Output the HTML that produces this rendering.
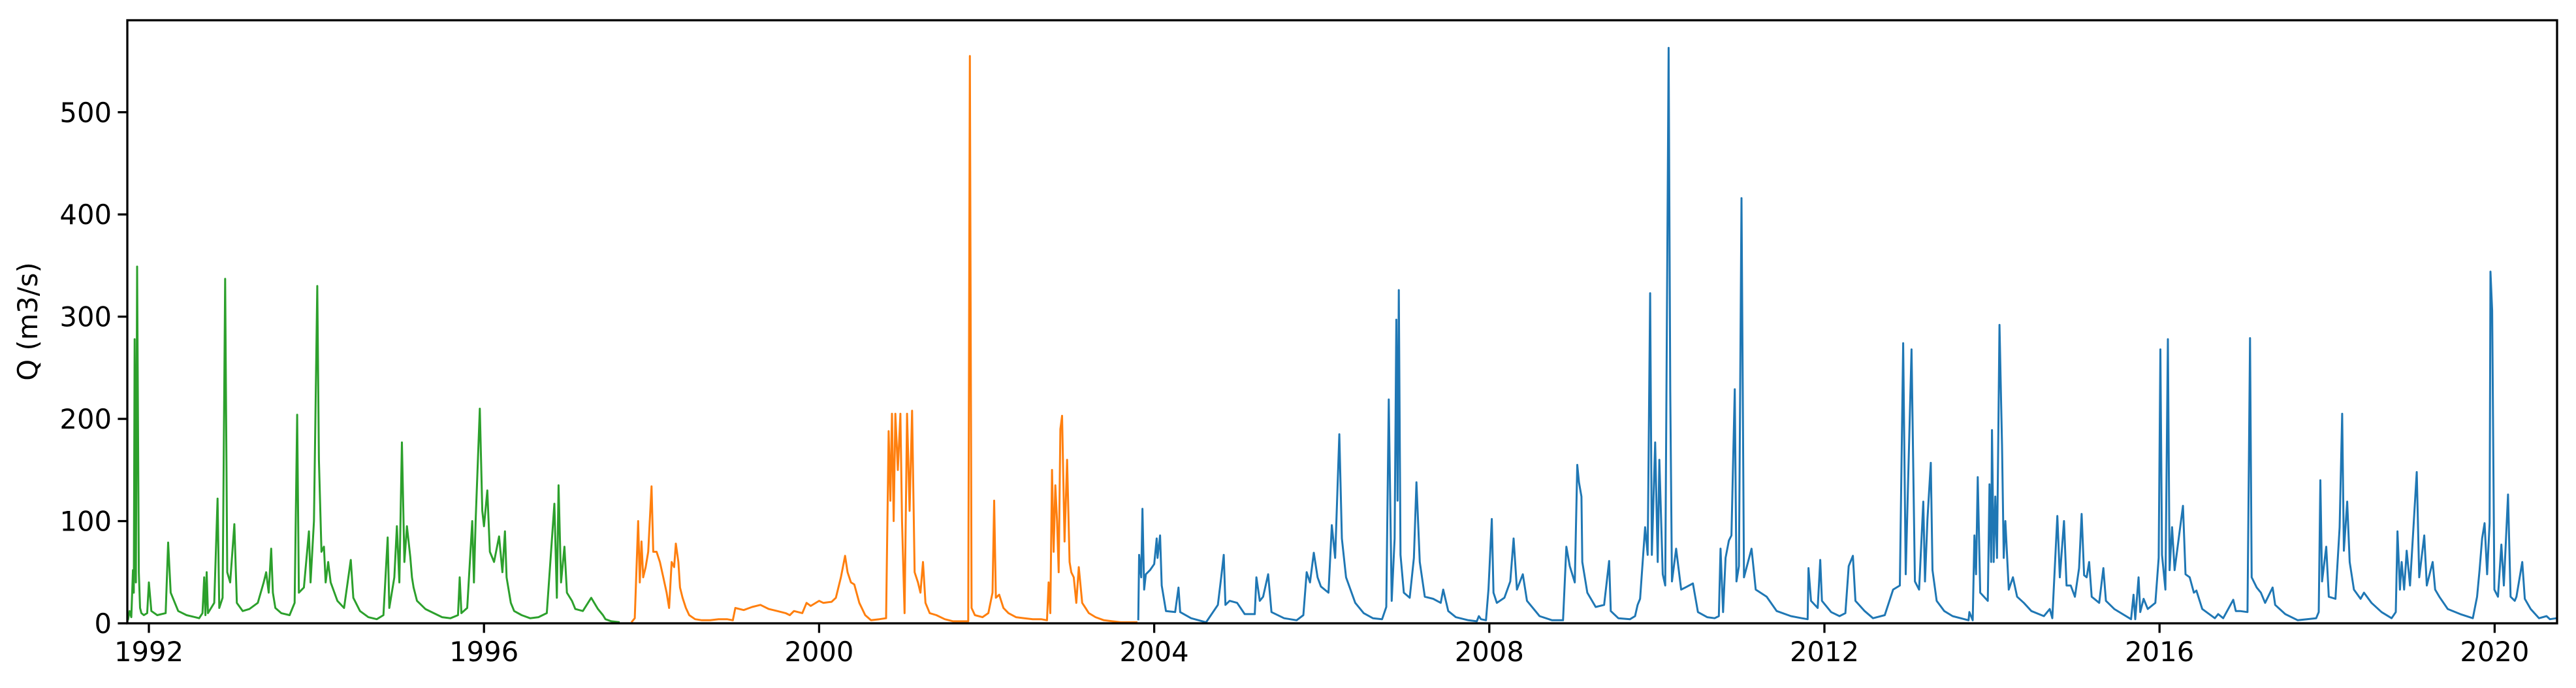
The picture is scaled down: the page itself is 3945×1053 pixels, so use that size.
<!DOCTYPE html>
<html><head><meta charset="utf-8">
<style>
html,body{margin:0;padding:0;background:#fff;}
svg{display:block;}
text{font-family:"DejaVu Sans","Liberation Sans",sans-serif;fill:#000;}
</style></head>
<body>
<svg id="chart" width="3945" height="1053" viewBox="0 0 3945 1053" xmlns="http://www.w3.org/2000/svg">
<rect x="0" y="0" width="3945" height="1053" fill="#fff"/>
<g id="series"></g>
<g id="axes"></g>
</svg>
<script>
const xTickLabels = ["1992","1996","2000","2004","2008","2012","2016","2020"];
const xTickYears = [1992,1996,2000,2004,2008,2012,2016,2020];
const yTickValues = [0,100,200,300,400,500];

const greenDates = [1991.75,1991.77,1991.79,1991.81,1991.82,1991.83,1991.845,1991.86,1991.88,1991.895,1991.91,1991.94,1991.98,2.0+1990,1992.03,1992.1,1992.2,1992.23,1992.26,1992.35,1992.45,1992.55,1992.6,1992.64,1992.66,1992.675,1992.69,1992.705,1992.78,1992.82,1992.84,1992.88,1992.91,1992.935,1992.97,1993.02,1993.05,1993.12,1993.2,1993.3,1993.37,1993.40,1993.43,1993.46,1993.48,1993.51,1993.58,1993.68,1993.74,1993.77,1993.79,1993.85,1993.91,1993.93,1993.97,1994.01,1994.03,1994.06,1994.09,1994.11,1994.14,1994.17,1994.25,1994.33,1994.41,1994.44,1994.52,1994.62,1994.72,1994.8,1994.85,1994.87,1994.93,1994.96,1994.99,1995.02,1995.05,1995.08,1995.12,1995.14,1995.16,1995.2,1995.3,1995.4,1995.5,1995.6,1995.69,1995.71,1995.73,1995.8,1995.86,1995.88,1995.9,1995.95,1995.98,1996.0,1996.04,1996.07,1996.12,1996.18,1996.22,1996.25,1996.27,1996.3,1996.32,1996.36,1996.45,1996.55,1996.65,1996.75,1996.84,1996.87,1996.89,1996.92,1996.96,1996.99,1997.05,1997.09,1997.18,1997.28,1997.36,1997.42,1997.45,1997.52,1997.62,1997.7,1997.76];
const greenValues = [3,12,6,52,30,278,40,349,50,15,10,8,10,40,12,8,10,79,30,12,8,6,5,10,45,8,50,10,20,122,15,25,337,50,40,97,20,12,14,20,40,50,30,73,30,15,10,8,20,204,30,35,90,40,100,330,160,70,75,40,60,40,22,15,62,25,12,6,4,8,84,15,45,95,40,177,60,95,65,45,35,22,14,10,6,5,8,45,10,15,100,40,100,210,110,95,130,70,60,85,50,90,45,30,20,12,8,5,6,10,117,25,135,40,75,30,22,14,12,25,14,8,4,2,1];

const orangeDates = [1997.76,1997.8,1997.84,1997.86,1997.88,1997.9,1997.93,1997.96,1998.0,1998.02,1998.06,1998.1,1998.14,1998.18,1998.21,1998.24,1998.27,1998.29,1998.32,1998.34,1998.37,1998.41,1998.45,1998.52,1998.6,1998.7,1998.8,1998.9,1998.97,1999.0,1999.1,1999.2,1999.3,1999.4,1999.5,1999.6,1999.65,1999.7,1999.8,1999.85,1999.9,2000.0,2000.05,2000.15,2000.2,2000.26,2000.31,2000.34,2000.38,2000.42,2000.48,2000.55,2000.62,2000.72,2000.8,2000.83,2000.85,2000.87,2000.89,2000.91,2000.94,2000.97,2000.99,2001.02,2001.05,2001.08,2001.11,2001.14,2001.18,2001.21,2001.24,2001.27,2001.32,2001.4,2001.5,2001.6,2001.7,2001.78,2001.80,2001.82,2001.86,2001.95,2002.02,2002.07,2002.09,2002.11,2002.15,2002.2,2002.26,2002.35,2002.45,2002.55,2002.65,2002.72,2002.74,2002.76,2002.78,2002.8,2002.82,2002.84,2002.86,2002.88,2002.9,2002.93,2002.96,2002.99,2003.01,2003.04,2003.07,2003.1,2003.14,2003.18,2003.22,2003.3,2003.4,2003.5,2003.6,2003.7,2003.8];
const orangeValues = [1,5,100,40,80,45,55,70,134,70,70,60,45,30,15,60,55,78,60,35,25,15,8,4,3,3,4,4,3,15,13,16,18,14,12,10,8,12,10,20,17,22,20,21,25,45,66,50,40,38,20,8,3,4,5,188,120,205,100,205,150,205,100,10,205,110,208,50,40,30,60,20,10,8,4,2,2,2,555,15,8,6,10,30,120,25,28,15,10,6,5,4,4,3,40,10,150,70,135,100,50,190,203,80,160,60,50,45,20,55,20,15,10,6,3,2,1,1,1];

const blueDates = [2003.81,2003.82,2003.845,2003.86,2003.88,2003.90,2003.95,2004.0,2004.03,2004.04,2004.07,2004.09,2004.14,2004.25,2004.29,2004.31,2004.44,2004.62,2004.76,2004.80,2004.83,2004.85,2004.90,2004.99,2005.08,2005.20,2005.22,2005.26,2005.30,2005.36,2005.40,2005.55,2005.7,2005.78,2005.82,2005.86,2005.905,2005.95,2005.99,2006.08,2006.12,2006.16,2006.21,2006.24,2006.29,2006.4,2006.5,2006.61,2006.72,2006.77,2006.80,2006.835,2006.87,2006.89,2006.905,2006.92,2006.94,2006.98,2007.05,2007.10,2007.13,2007.17,2007.23,2007.33,2007.42,2007.45,2007.51,2007.6,2007.75,2007.85,2007.875,2007.9,2007.96,2007.99,2008.03,2008.05,2008.09,2008.18,2008.25,2008.29,2008.33,2008.40,2008.45,2008.6,2008.75,2008.88,2008.92,2008.96,2009.02,2009.05,2009.07,2009.10,2009.11,2009.17,2009.27,2009.37,2009.43,2009.45,2009.54,2009.68,2009.74,2009.77,2009.80,2009.86,2009.89,2009.92,2009.94,2009.98,2010.01,2010.03,2010.07,2010.10,2010.14,2010.16,2010.18,2010.23,2010.29,2010.34,2010.43,2010.49,2010.6,2010.69,2010.74,2010.76,2010.79,2010.82,2010.86,2010.89,2010.93,2010.95,2010.98,2011.01,2011.04,2011.13,2011.18,2011.31,2011.43,2011.6,2011.73,2011.80,2011.81,2011.84,2011.92,2011.95,2011.97,2012.08,2012.18,2012.25,2012.29,2012.34,2012.37,2012.48,2012.58,2012.72,2012.82,2012.90,2012.94,2012.97,2013.04,2013.08,2013.13,2013.18,2013.20,2013.23,2013.27,2013.29,2013.34,2013.43,2013.53,2013.72,2013.73,2013.77,2013.79,2013.81,2013.83,2013.86,2013.95,2013.97,2013.99,2014.00,2014.02,2014.04,2014.06,2014.09,2014.11,2014.12,2014.14,2014.16,2014.20,2014.25,2014.30,2014.38,2014.47,2014.62,2014.69,2014.72,2014.78,2014.81,2014.86,2014.89,2014.94,2014.99,2015.04,2015.07,2015.10,2015.13,2015.16,2015.19,2015.28,2015.33,2015.36,2015.46,2015.66,2015.69,2015.71,2015.75,2015.77,2015.81,2015.86,2015.95,2015.99,2016.01,2016.03,2016.07,2016.10,2016.12,2016.15,2016.18,2016.24,2016.28,2016.31,2016.36,2016.41,2016.44,2016.51,2016.66,2016.70,2016.76,2016.88,2016.91,2016.96,2017.05,2017.08,2017.10,2017.16,2017.21,2017.26,2017.35,2017.38,2017.50,2017.65,2017.87,2017.90,2017.92,2017.94,2017.99,2018.02,2018.10,2018.15,2018.18,2018.20,2018.24,2018.27,2018.32,2018.40,2018.44,2018.53,2018.65,2018.77,2018.82,2018.84,2018.87,2018.89,2018.92,2018.95,2018.99,2019.07,2019.10,2019.16,2019.19,2019.26,2019.29,2019.34,2019.44,2019.59,2019.74,2019.79,2019.82,2019.85,2019.88,2019.91,2019.94,2019.95,2019.97,2019.997,2020.04,2020.08,2020.11,2020.16,2020.19,2020.24,2020.26,2020.33,2020.36,2020.43,2020.53,2020.62,2020.66,2020.74];
const blueValues = [3,67,45,112,33,48,52,58,83,64,86,37,12,11,35,11,5,1,18,45,67,18,22,20,9,9,45,22,26,48,11,5,3,8,50,40,69,45,36,30,96,64,185,83,45,20,10,5,4,16,219,22,83,297,120,326,67,30,25,64,138,60,26,24,20,33,12,6,3,2,7,4,3,33,102,30,20,25,41,83,33,48,22,7,3,3,75,56,40,155,138,124,60,30,16,18,61,12,5,4,7,18,24,94,67,323,67,177,60,160,48,37,563,227,41,73,33,35,39,11,6,5,7,73,11,64,81,86,229,41,56,416,45,73,33,26,12,7,5,4,54,22,15,62,22,11,7,10,56,66,22,12,5,8,33,37,274,48,268,41,33,119,41,102,157,52,22,12,7,3,11,3,86,48,143,30,22,136,60,189,60,124,64,292,213,174,64,100,33,45,26,20,12,7,14,5,105,45,100,37,37,26,54,107,47,45,60,26,20,54,22,14,4,28,4,45,11,24,14,20,64,268,67,33,278,52,94,52,90,115,48,45,30,32,14,5,9,5,23,12,12,11,279,45,35,30,20,35,18,9,3,5,11,140,41,75,26,24,94,205,71,119,60,33,24,30,20,11,5,11,90,33,60,33,71,37,148,45,86,37,60,33,26,14,9,5,26,52,83,98,48,98,344,306,33,26,77,37,126,26,22,26,60,24,14,5,7,4,5];

// axis functions
const X0 = 228, PX_PER_YEAR = 128.3;   // 1992 tick at x=228
const Y0 = 954, PX_PER_UNIT = 1.5645;  // value 0 at y=954
const PLOT = {left:195, right:3916, top:31, bottom:954};
function xScale(year){ return X0 + (year - 1992) * PX_PER_YEAR; }
function yScale(v){ return Y0 - v * PX_PER_UNIT; }

const NS = "http://www.w3.org/2000/svg";
const svg = document.getElementById('chart');
const seriesG = document.getElementById('series');
const axesG = document.getElementById('axes');

// clip
const defs = document.createElementNS(NS,'defs');
const cp = document.createElementNS(NS,'clipPath');
cp.setAttribute('id','plotclip');
const cr = document.createElementNS(NS,'rect');
cr.setAttribute('x',PLOT.left); cr.setAttribute('y',PLOT.top);
cr.setAttribute('width',PLOT.right-PLOT.left); cr.setAttribute('height',PLOT.bottom-PLOT.top);
cp.appendChild(cr); defs.appendChild(cp); svg.insertBefore(defs, svg.firstChild);
seriesG.setAttribute('clip-path','url(#plotclip)');

function drawSeries(dates, values, color, name){
  let d = '';
  for(let i=0;i<dates.length;i++){
    d += (i?'L':'M') + xScale(dates[i]).toFixed(1) + ' ' + yScale(values[i]).toFixed(1);
  }
  const p = document.createElementNS(NS,'path');
  p.setAttribute('d', d);
  p.setAttribute('fill','none');
  p.setAttribute('stroke', color);
  p.setAttribute('stroke-width','3');
  p.setAttribute('stroke-linejoin','round');
  
  
  seriesG.appendChild(p);
}
drawSeries(greenDates, greenValues, '#2ca02c', 'series-1991-1997-line');
drawSeries(orangeDates, orangeValues, '#ff7f0e', 'series-1997-2003-line');
drawSeries(blueDates, blueValues, '#1f77b4', 'series-2003-2020-line');

// frame
const frame = document.createElementNS(NS,'rect');
frame.setAttribute('x',PLOT.left); frame.setAttribute('y',PLOT.top);
frame.setAttribute('width',PLOT.right-PLOT.left); frame.setAttribute('height',PLOT.bottom-PLOT.top);
frame.setAttribute('fill','none'); frame.setAttribute('stroke','#000'); frame.setAttribute('stroke-width','3.3');


axesG.appendChild(frame);

// x ticks
for(let i=0;i<xTickYears.length;i++){
  const x = xScale(xTickYears[i]);
  const t = document.createElementNS(NS,'line');
  t.setAttribute('x1',x); t.setAttribute('x2',x);
  t.setAttribute('y1',PLOT.bottom); t.setAttribute('y2',PLOT.bottom+14.6);
  t.setAttribute('stroke','#000'); t.setAttribute('stroke-width','3.3');
  
  
  axesG.appendChild(t);
  const lb = document.createElementNS(NS,'text');
  lb.setAttribute('x',x); lb.setAttribute('y',1012);
  lb.setAttribute('text-anchor','middle'); lb.setAttribute('font-size','41.7');
  lb.textContent = xTickLabels[i];
  
  
  axesG.appendChild(lb);
}
// y ticks
for(let i=0;i<yTickValues.length;i++){
  const y = yScale(yTickValues[i]);
  const t = document.createElementNS(NS,'line');
  t.setAttribute('x1',PLOT.left-14.6); t.setAttribute('x2',PLOT.left);
  t.setAttribute('y1',y); t.setAttribute('y2',y);
  t.setAttribute('stroke','#000'); t.setAttribute('stroke-width','3.3');
  
  
  axesG.appendChild(t);
  const lb = document.createElementNS(NS,'text');
  lb.setAttribute('x',PLOT.left-24); lb.setAttribute('y',y+15);
  lb.setAttribute('text-anchor','end'); lb.setAttribute('font-size','41.7');
  lb.textContent = String(yTickValues[i]);
  
  
  axesG.appendChild(lb);
}
// y title
const yt = document.createElementNS(NS,'text');
yt.setAttribute('transform','translate(57,492) rotate(-90)');
yt.setAttribute('text-anchor','middle'); yt.setAttribute('font-size','41.7');
yt.textContent = 'Q (m3/s)';


axesG.appendChild(yt);
</script>
</body></html>
